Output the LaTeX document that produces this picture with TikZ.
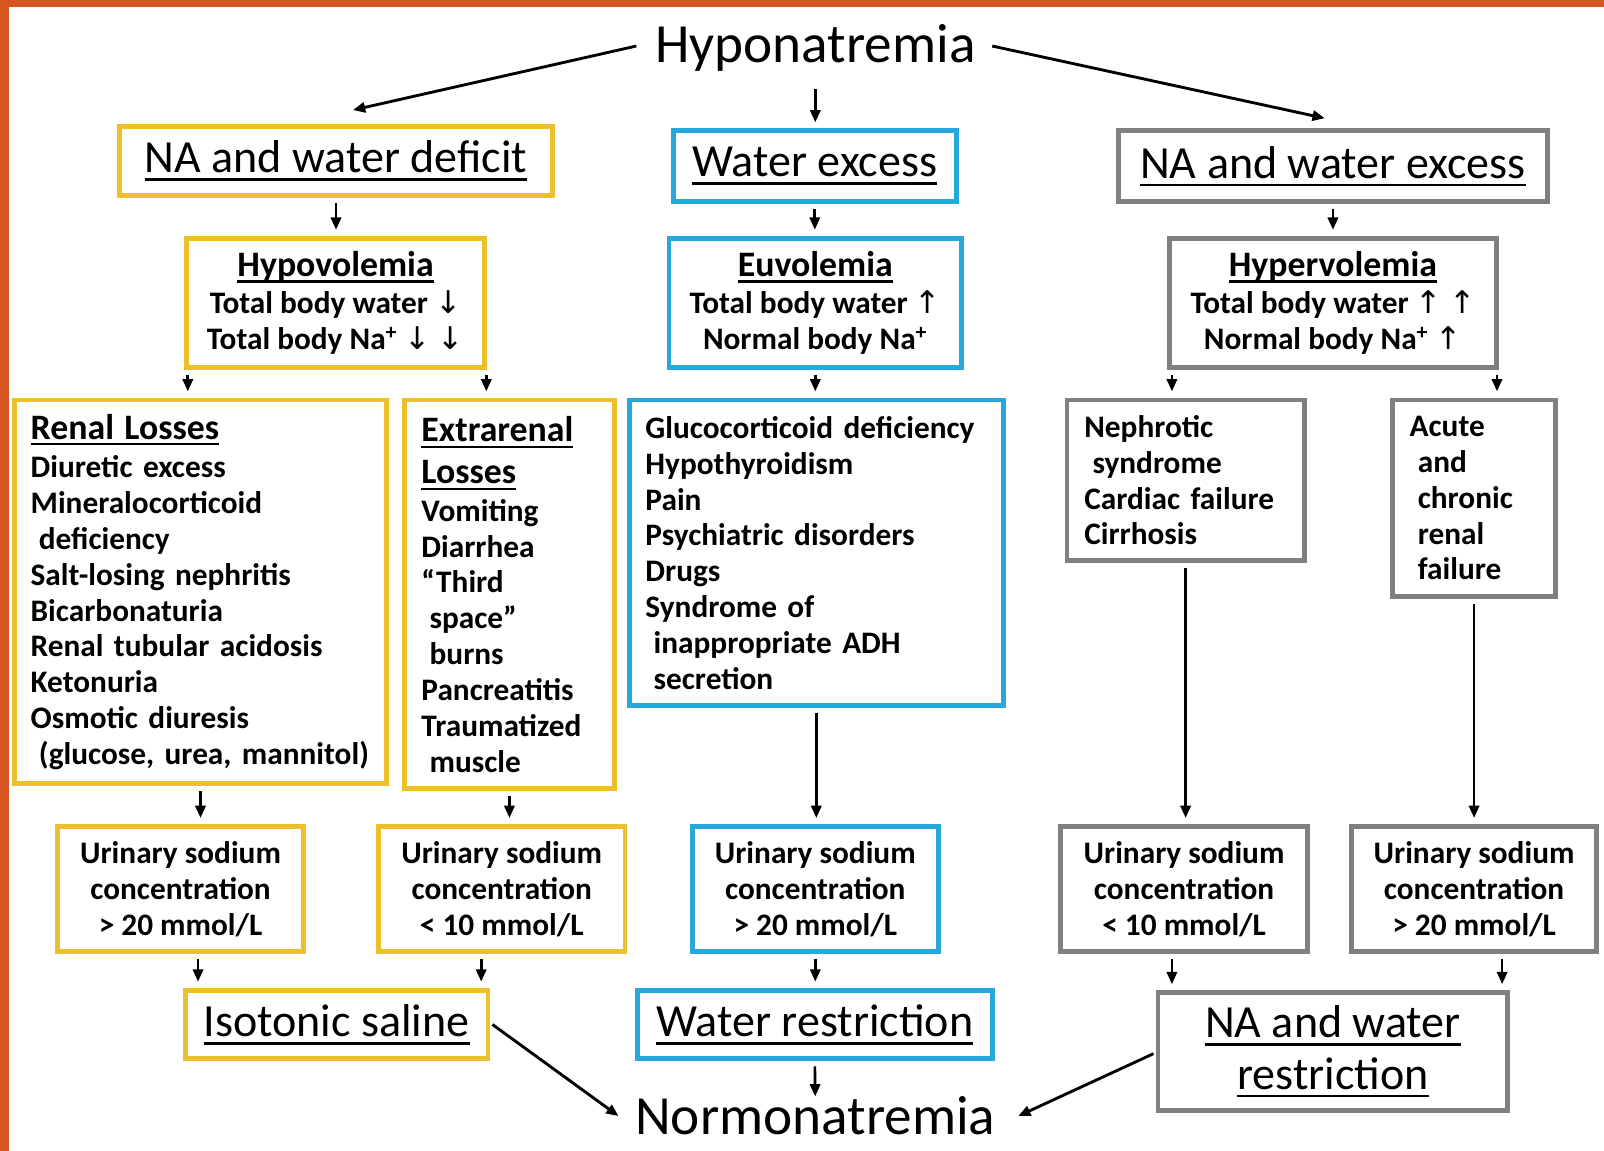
\documentclass[tikz,border=0pt]{standalone}
\usepackage{fontspec}
\setmainfont{Carlito}
\newfontfamily\arw{DejaVu Sans}
\usetikzlibrary{arrows.meta}
\definecolor{yel}{RGB}{236,192,45}
\definecolor{blu}{RGB}{38,168,222}
\definecolor{gry}{RGB}{128,128,128}
\definecolor{org}{RGB}{214,88,32}
\newcommand{\myul}[1]{\leavevmode\setbox0=\hbox{#1}\rlap{\vrule height -0.12em depth 0.18em width \wd0}\box0}
\newcommand{\ttl}[1]{{\fontsize{17.5}{20}\selectfont\myul{#1}}}
\newcommand{\dn}{{\arw\mdseries ↓}}
\newcommand{\up}{{\arw\mdseries ↑}}
\tikzset{
  bx/.style={draw, line width=2.4pt, fill=white, inner sep=0pt},
  yb/.style={bx, draw=yel},
  bb/.style={bx, draw=blu},
  gb/.style={bx, draw=gry},
  big/.style={font=\fontsize{22.5}{25}\selectfont, align=center},
  sm/.style={font=\fontsize{15.3}{17.5}\selectfont\bfseries},
  arr/.style={-{Triangle[length=6pt,width=5pt]}, line width=1.3pt, shorten <=2.5pt, shorten >=3pt},
  darr/.style={-{Triangle[length=6pt,width=5pt]}, line width=1.4pt},
}
\begin{document}
\begin{tikzpicture}[x=0.5pt,y=-0.5pt]
\useasboundingbox (0,0) rectangle (1568,1125);
\fill[white] (0,0) rectangle (1568,1125);
\fill[org] (0,0) rectangle (9,1125);
\fill[org] (0,0) rectangle (1568,7);

% titles
\node[font=\fontsize{27}{30}\selectfont, inner sep=6pt] (hypon) at (797,47) {Hyponatremia};
\node[font=\fontsize{27}{30}\selectfont, inner sep=6pt] (normo) at (797,1091) {Normonatremia};

% row 1
\node[yb, big, minimum width=211.5pt, minimum height=33.5pt] (deficit) at (328.5,157.5) {\myul{NA and water deficit}};
\node[bb, big, minimum width=138.5pt, minimum height=34.5pt] (wexcess) at (796.5,162.5) {\myul{Water excess}};
\node[gb, big, minimum width=210pt, minimum height=34.5pt] (naexcess) at (1303,162.5) {\myul{NA and water excess}};

% row 2
\node[yb, sm, align=center, minimum width=146pt, minimum height=63pt] (hypo) at (328,296)
  {\ttl{Hypovolemia}\\[1pt] Total body water \dn\\ Total body Na\textsuperscript{+} \dn\ \dn};
\node[bb, sm, align=center, minimum width=143pt, minimum height=63pt] (euvo) at (797,296)
  {\ttl{Euvolemia}\\[1pt] Total body water \up\\ Normal body Na\textsuperscript{+}};
\node[gb, sm, align=center, minimum width=160pt, minimum height=63pt] (hyper) at (1303,296)
  {\ttl{Hypervolemia}\\[1pt] Total body water \up\ \up\\ Normal body Na\textsuperscript{+} \up};

% row 3
\node[yb, sm, align=left, minimum width=182pt, minimum height=187.5pt, text width=166pt, inner xsep=8pt] (renal) at (196,578.5)
  {\ttl{Renal Losses}\\[1.5pt]
   Diuretic excess\\
   Mineralocorticoid\\
   \hspace*{4pt}deficiency\\
   Salt-losing nephritis\\
   Bicarbonaturia\\
   Renal tubular acidosis\\
   Ketonuria\\
   Osmotic diuresis\\
   \hspace*{4pt}(glucose, urea, mannitol)};
\node[yb, sm, align=left, minimum width=103pt, minimum height=190pt, text width=86pt, inner xsep=8.5pt] (extra) at (498,581)
  {\ttl{Extrarenal}\\[3pt]
   \ttl{Losses}\\[1pt]
   Vomiting\\
   Diarrhea\\
   “Third\\
   \hspace*{4pt}space”\\
   \hspace*{4pt}burns\\
   Pancreatitis\\
   Traumatized\\
   \hspace*{4pt}muscle};
\node[bb, sm, align=left, minimum width=183pt, minimum height=149.5pt, text width=167pt, inner xsep=8pt] (gluco) at (798,540.5)
  {Glucocorticoid deficiency\\
   Hypothyroidism\\
   Pain\\
   Psychiatric disorders\\
   Drugs\\
   Syndrome of\\
   \hspace*{4pt}inappropriate ADH\\
   \hspace*{4pt}secretion};
\node[gb, sm, align=left, minimum width=116pt, minimum height=78.5pt, text width=99pt, inner xsep=8.5pt] (nephro) at (1159,469.5)
  {Nephrotic\\
   \hspace*{4pt}syndrome\\
   Cardiac failure\\
   Cirrhosis};
\node[gb, sm, align=left, minimum width=80pt, minimum height=96pt, text width=63pt, inner xsep=8.5pt] (acute) at (1441,487)
  {Acute\\
   \hspace*{4pt}and\\
   \hspace*{4pt}chronic\\
   \hspace*{4pt}renal\\
   \hspace*{4pt}failure};

% row 4
\node[yb, sm, align=center, minimum width=120.5pt, minimum height=61pt] (u1) at (176.5,869)
  {Urinary sodium\\ concentration\\ > 20 mmol/L};
\node[yb, sm, align=center, minimum width=120.5pt, minimum height=61pt] (u2) at (490.5,869)
  {Urinary sodium\\ concentration\\ < 10 mmol/L};
\node[bb, sm, align=center, minimum width=120pt, minimum height=61pt] (u3) at (797,869)
  {Urinary sodium\\ concentration\\ > 20 mmol/L};
\node[gb, sm, align=center, minimum width=120.5pt, minimum height=61pt] (u4) at (1157.5,869)
  {Urinary sodium\\ concentration\\ < 10 mmol/L};
\node[gb, sm, align=center, minimum width=120pt, minimum height=61pt] (u5) at (1441,869)
  {Urinary sodium\\ concentration\\ > 20 mmol/L};

% row 5
\node[yb, big, minimum width=148pt, minimum height=33.5pt] (iso) at (329,1001.5) {\myul{Isotonic saline}};
\node[bb, big, minimum width=173.5pt, minimum height=33.5pt] (wres) at (796.5,1001.5) {\myul{Water restriction}};
\node[gb, big, minimum width=171pt, minimum height=57.5pt] (nares) at (1303,1028) {\myul{NA and water}\\ \myul{restriction}};

% connectors
\draw[darr] ([xshift=-3pt,yshift=1pt]hypon.west) -- ([xshift=8.25pt,yshift=7pt]deficit.north);
\draw[darr] ([xshift=2pt,yshift=1pt]hypon.east) -- ([xshift=-4pt,yshift=5pt]naexcess.north);
\draw[arr] (hypon.south) -- (hypon.south |- wexcess.north);

\draw[arr] (deficit.south) -- (deficit.south |- hypo.north);
\draw[arr] (wexcess.south) -- (wexcess.south |- euvo.north);
\draw[arr] (naexcess.south) -- (naexcess.south |- hyper.north);

\draw[arr] ([xshift=2pt]hypo.south west) -- ([xshift=2pt]hypo.south west |- renal.north);
\draw[arr] ([xshift=-0.5pt]hypo.south east) -- ([xshift=-0.5pt]hypo.south east |- extra.north);
\draw[arr] (euvo.south) -- (euvo.south |- gluco.north);
\draw[arr] ([xshift=2.5pt]hyper.south west) -- ([xshift=2.5pt]hyper.south west |- nephro.north);
\draw[arr] ([xshift=-1pt]hyper.south east) -- ([xshift=-1pt]hyper.south east |- acute.north);

\draw[arr] (renal.south) -- (renal.south |- u1.north);
\draw[arr] (extra.south) -- (extra.south |- u2.north);
\draw[arr] (gluco.south) -- (gluco.south |- u3.north);
\draw[arr] (nephro.south) -- (nephro.south |- u4.north);
\draw[arr] (acute.south) -- (acute.south |- u5.north);

\draw[arr] ([xshift=7.5pt]iso.north west |- u1.south) -- ([xshift=7.5pt]iso.north west);
\draw[arr] ([xshift=-4.5pt]iso.north east |- u2.south) -- ([xshift=-4.5pt]iso.north east);
\draw[arr] (u3.south) -- (u3.south |- wres.north);
\draw[arr] ([xshift=8pt]nares.north west |- u4.south) -- ([xshift=8pt]nares.north west);
\draw[arr] ([xshift=-4pt]nares.north east |- u5.south) -- ([xshift=-4pt]nares.north east);

\draw[arr] (wres.south) -- ([yshift=-9pt]normo.north);
\draw[darr] ([xshift=1pt]iso.east) -- ([xshift=-2pt]normo.west);
\draw[darr] ([xshift=-1pt,yshift=-1pt]nares.west) -- ([xshift=5pt]normo.east);
\end{tikzpicture}
\end{document}
